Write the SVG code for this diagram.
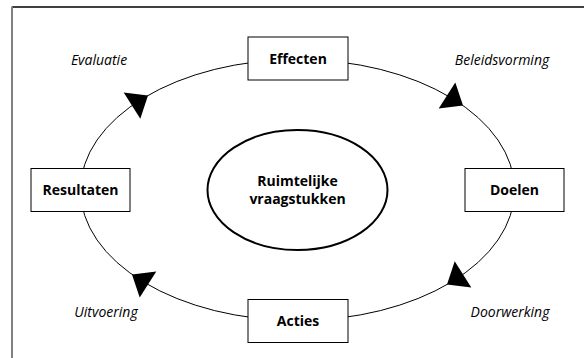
<svg xmlns="http://www.w3.org/2000/svg" width="584" height="358" viewBox="0 0 584 358">
<style>
.box{fill:#fff;stroke:#000;stroke-width:1}
.bt{font-family:"Open Sans","Liberation Sans",sans-serif;font-weight:bold;font-size:14px;text-anchor:middle;fill:#000}
.it{font-family:"Open Sans","Liberation Sans",sans-serif;font-style:italic;font-size:14px;text-anchor:middle;fill:#000}
.ln{fill:none;stroke:#000;stroke-width:1}
.ah{fill:#000}
</style>
<rect x="0" y="0" width="584" height="358" fill="#fff"/>
<line x1="12" y1="7" x2="584" y2="7" stroke="#000" stroke-width="1.3"/>
<line x1="12" y1="6.5" x2="12" y2="358" stroke="#808080" stroke-width="2"/>
<g id="connectors">
<ellipse class="ln" cx="297.5" cy="190" rx="217" ry="130.5"/>
<polygon class="ah" points="148,95.5 140.3,118.7 123.7,92.5"/>
<polygon class="ah" points="463,105.6 438.7,108.6 455.3,82.4"/>
<polygon class="ah" points="447,284.5 471.3,287.5 454.7,261.3"/>
<polygon class="ah" points="132,274.4 139.7,297.6 156.3,271.4"/>
</g>
<g id="center">
<ellipse cx="297.5" cy="190" rx="90" ry="60" fill="#fff" stroke="#000" stroke-width="2"/>
<text class="bt" x="297.5" y="185.5">Ruimtelijke</text>
<text class="bt" x="297.5" y="204">vraagstukken</text>
</g>
<g id="effecten">
<rect class="box" x="248" y="37" width="100" height="43"/>
<text class="bt" x="298" y="63.5">Effecten</text>
</g>
<g id="doelen">
<rect class="box" x="465" y="168.5" width="99" height="43"/>
<text class="bt" x="514.5" y="195">Doelen</text>
</g>
<g id="acties">
<rect class="box" x="248" y="299.5" width="100" height="43"/>
<text class="bt" x="298" y="326">Acties</text>
</g>
<g id="resultaten">
<rect class="box" x="31" y="168.5" width="99" height="43"/>
<text class="bt" x="80.5" y="195">Resultaten</text>
</g>
<g id="labels">
<text class="it" x="99" y="65">Evaluatie</text>
<text class="it" x="502" y="65">Beleidsvorming</text>
<text class="it" x="106" y="316.5">Uitvoering</text>
<text class="it" x="510" y="316.5">Doorwerking</text>
</g>
</svg>
